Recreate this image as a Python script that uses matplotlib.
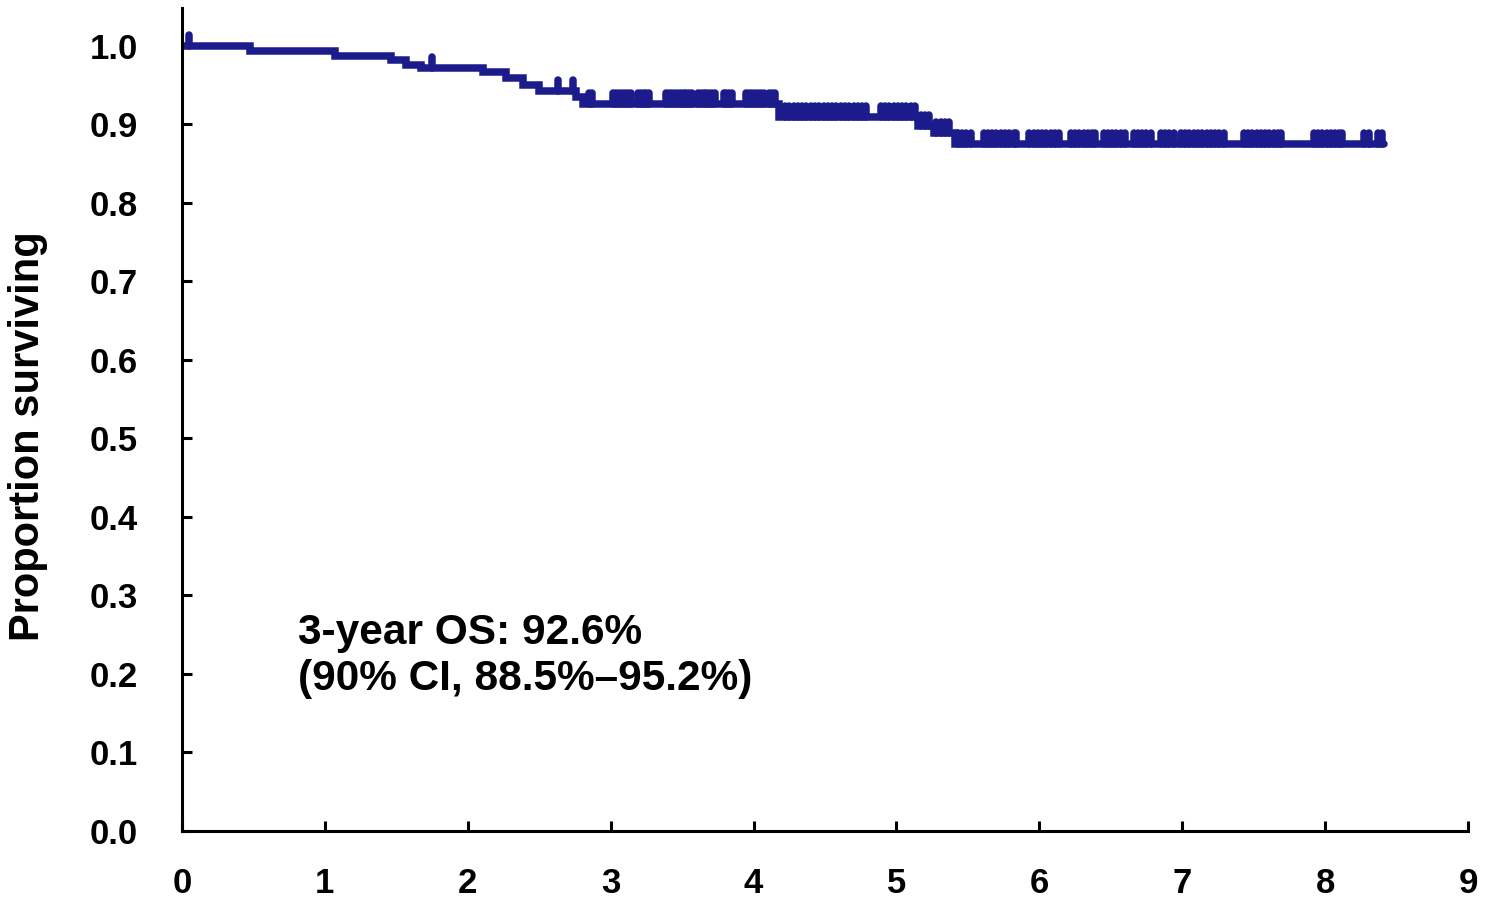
import numpy as np
import matplotlib
matplotlib.use("Agg")
import matplotlib.pyplot as plt

plt.rcParams['font.family'] = ['Liberation Sans', 'DejaVu Sans']
plt.rcParams['font.weight'] = 'bold'

# Kaplan-Meier steps (years, proportion surviving after the drop)
event_times = [0.475, 1.07, 1.46, 1.57, 1.67, 2.11, 2.27, 2.39, 2.50, 2.76, 2.81,
               4.18, 5.15, 5.26, 5.41]
surv = [0.993, 0.987, 0.982, 0.976, 0.972, 0.966, 0.959, 0.950, 0.943, 0.935, 0.926,
        0.909, 0.898, 0.889, 0.875]
last_followup = 8.41

# censored observations (years)
censor_times = [0.05, 1.75, 2.63, 2.74, 2.85, 2.87,
                3.02, 3.04, 3.06, 3.08, 3.10, 3.12, 3.14,
                3.19, 3.21, 3.23, 3.25, 3.27,
                3.39, 3.41, 3.43, 3.45, 3.47, 3.49, 3.51, 3.53, 3.55, 3.57,
                3.61, 3.63, 3.65, 3.67, 3.69, 3.71, 3.73,
                3.79, 3.81, 3.83, 3.85,
                3.95, 3.97, 3.99, 4.01, 4.03, 4.05, 4.07,
                4.11, 4.13, 4.15,
                4.22, 4.25, 4.28, 4.31, 4.34, 4.37, 4.40, 4.43, 4.46, 4.49,
                4.52, 4.55, 4.58, 4.61, 4.64, 4.67, 4.70,
                4.73, 4.76, 4.79,
                4.89, 4.92, 4.95, 4.98, 5.01, 5.04, 5.07, 5.10, 5.13,
                5.17, 5.20, 5.23, 5.28, 5.31, 5.34, 5.37,
                5.43, 5.46, 5.49, 5.52,
                5.61, 5.64, 5.67, 5.70, 5.73, 5.76, 5.79, 5.82, 5.84,
                5.93, 5.96, 5.99, 6.02, 6.05, 6.08, 6.11, 6.14,
                6.22, 6.25, 6.28, 6.31, 6.34, 6.37, 6.39,
                6.45, 6.48, 6.51, 6.54, 6.57, 6.60,
                6.66, 6.69, 6.72, 6.75, 6.78,
                6.85, 6.88, 6.91, 6.94,
                6.99, 7.02, 7.05, 7.08, 7.11, 7.14, 7.17, 7.20, 7.23, 7.26, 7.29,
                7.43, 7.46, 7.49, 7.52, 7.55, 7.58, 7.61, 7.64, 7.67, 7.69,
                7.92, 7.95, 7.98, 8.01, 8.04, 8.07, 8.10, 8.12,
                8.27, 8.31, 8.37, 8.40]

x_ticks = list(range(0, 10))
y_ticks = [round(0.1 * i, 1) for i in range(11)]

line_col = '#1b1b8c'

fig = plt.figure(figsize=(14.89, 9.01), dpi=100)
ax = fig.add_axes([0.1222, 0.0777, 0.8637, 0.9133])

xs = [0] + event_times + [last_followup]
ys = [1.0] + surv + [surv[-1]]
ax.step(xs, ys, where='post', color=line_col, lw=5.4, solid_joinstyle='miter',
        solid_capstyle='round')

# censor ticks sit on top of the curve
steps_t = np.array([0] + event_times)
steps_s = np.array([1.0] + surv)
idx = np.searchsorted(steps_t, censor_times, side='right') - 1
cs = steps_s[idx]
vl = ax.vlines(censor_times, cs, cs + 0.014, color=line_col, lw=5.4)
vl.set_capstyle('round')

ax.set_xlim(0, 9)
ax.set_ylim(0, 1.048)
ax.set_xticks(x_ticks)
ax.set_yticks(y_ticks)
ax.set_yticklabels(['%.1f' % v for v in y_ticks])
ax.spines['top'].set_visible(False)
ax.spines['right'].set_visible(False)
for s in ['left', 'bottom']:
    ax.spines[s].set_linewidth(2.2)
ax.tick_params(axis='both', direction='in', length=7.5, width=2.2, labelsize=25)
ax.tick_params(axis='x', pad=26)
ax.tick_params(axis='y', pad=32)

ax.set_ylabel('Proportion surviving', fontsize=30, fontweight='bold')
ax.yaxis.set_label_coords(-0.104, 0.48)

ax.text(0.81, 0.278, '3-year OS: 92.6%\n(90% CI, 88.5%\u201395.2%)',
        fontsize=30.5, fontweight='bold', va='top', ha='left', linespacing=1.2)

fig.savefig('out.png', dpi=100)
